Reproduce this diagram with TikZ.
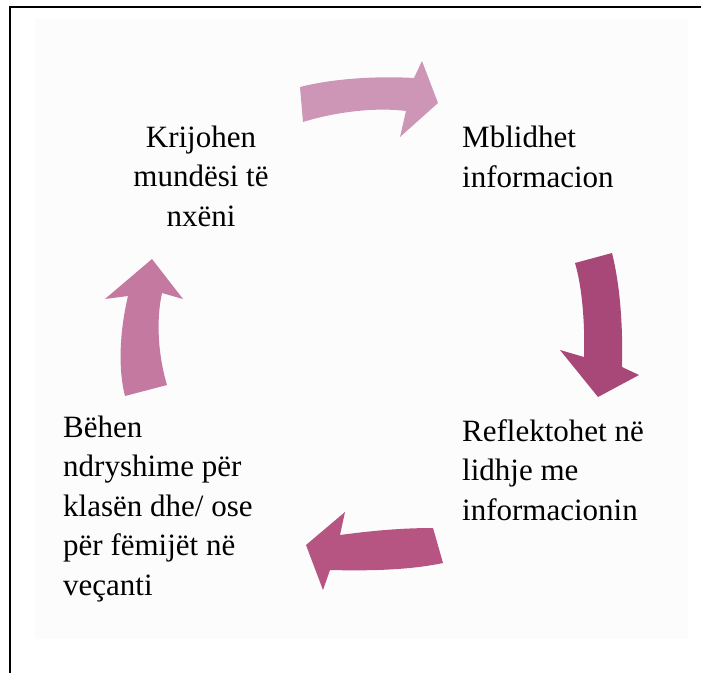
\documentclass[tikz,border=0pt]{standalone}
\usepackage{fontspec}
\setmainfont{Liberation Serif}
\usepackage{xcolor}
\usepackage{tikz}
\usetikzlibrary{positioning}

\definecolor{pinkA}{RGB}{205,150,182}
\definecolor{pinkB}{RGB}{168,72,120}
\definecolor{pinkC}{RGB}{182,84,130}
\definecolor{pinkD}{RGB}{196,122,160}
\definecolor{framegray}{RGB}{252,252,252}

\tikzset{
  label/.style={inner sep=0pt,font={\fontsize{31pt}{39.5pt}\selectfont}},
  blockarrow/.style={draw=none}
}

\begin{document}
\begin{tikzpicture}[x=1pt,y=-1pt]
\useasboundingbox (0,0) rectangle (701,673);
% faint frame behind the cycle
\fill[framegray] (35,18) rectangle (688,639);
\draw[line width=1.8pt] (9,7) -- (701,7);
\draw[line width=1.8pt] (10,6) -- (10,673);

% the four steps (anchored at the last line)
\node[label,align=center,anchor=base] (A) at (201,226) {Krijohen\\mundësi të\\nxëni};
\node[label,align=left,anchor=base west] (B) at (462,187) {Mblidhet\\informacion};
\node[label,align=left,anchor=base west] (C) at (462,520) {Reflektohet në\\lidhje me\\informacionin};
\node[label,align=left,anchor=base west] (D) at (63,595) {Bëhen\\ndryshime për\\klasën dhe/ ose\\për fëmijët në\\veçanti};

% curved block arrows
\fill[pinkA,blockarrow] (300,87) .. controls (335,78) and (380,76) .. (414,78)
  -- (422,61) -- (438,103) -- (400,137) -- (406,111)
  .. controls (375,107) and (335,112) .. (303,122) -- cycle;
\fill[pinkB,blockarrow] (575,263) .. controls (583,290) and (585,330) .. (584,357)
  -- (560,350) -- (598,397) -- (639,375) -- (622,367)
  .. controls (623,325) and (620,285) .. (612,253) -- cycle;
\fill[pinkC,blockarrow] (433,528) .. controls (400,528) and (370,531) .. (340,535)
  -- (345,512) -- (306,545) -- (323,590) -- (330,570)
  .. controls (370,571) and (410,570) .. (443,563) -- cycle;
\fill[pinkD,blockarrow] (125,396) .. controls (117,365) and (121,325) .. (128,296)
  -- (105,299) -- (152,259) -- (183,299) -- (162,293)
  .. controls (156,320) and (158,355) .. (167,385) -- cycle;
\end{tikzpicture}
\end{document}
